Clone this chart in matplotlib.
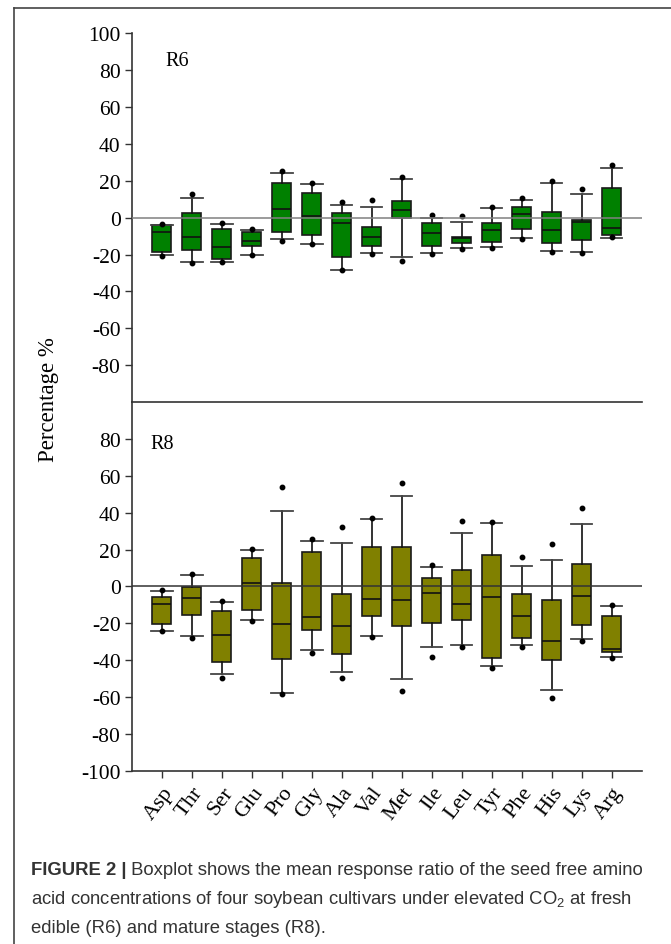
import matplotlib
matplotlib.use("Agg")
import matplotlib.pyplot as plt
from matplotlib.lines import Line2D

# Values (percent response ratio)
amino_acids = ['Asp', 'Thr', 'Ser', 'Glu', 'Pro', 'Gly', 'Ala', 'Val',
               'Met', 'Ile', 'Leu', 'Tyr', 'Phe', 'His', 'Lys', 'Arg']

# R6 - fresh edible stage
r6_q3 = [-4.2, 2.7, -6.0, -8.0, 18.6, 13.2, 2.3, -5.1, 9.2, -3.1, -10.5, -3.1, 6.0, 2.9, -1.1, 16.1]
r6_q1 = [-18.5, -17.8, -22.5, -15.2, -7.6, -9.3, -21.4, -15.2, -0.4, -15.4, -13.9, -13.1, -6.0, -13.6, -12.0, -9.5]
r6_med = [-8.0, -10.5, -16.0, -12.9, 4.9, 0.9, -3.1, -10.3, 4.3, -8.5, -11.1, -6.9, 2.0, -6.5, -2.2, -5.4]
r6_whishi = [-4.2, 10.5, -3.5, -6.9, 24.5, 18.3, 6.8, 5.6, 21.0, 0.0, -2.4, 5.2, 9.8, 18.6, 12.8, 27.0]
r6_whislo = [-20.3, -23.9, -23.9, -20.3, -11.8, -14.1, -28.3, -19.4, -21.4, -19.2, -16.5, -16.0, -11.1, -18.3, -18.7, -10.8]
r6_dot_hi = [-3.5, 12.7, -2.7, -6.2, 25.4, 18.8, 8.3, 9.8, 22.1, 1.6, 1.1, 5.9, 10.5, 19.7, 15.5, 28.3]
r6_dot_lo = [-20.6, -24.5, -23.9, -20.3, -12.7, -14.1, -28.5, -19.9, -23.7, -19.6, -17.2, -16.5, -11.5, -18.8, -19.0, -10.7]

# R8 - mature stage
r8_q3 = [-6.0, -0.3, -13.3, 15.4, 1.8, 18.8, -4.0, 21.1, 21.3, 4.5, 8.9, 17.0, -4.3, -7.4, 11.9, -16.1]
r8_q1 = [-20.6, -15.7, -41.2, -12.8, -39.2, -23.5, -36.9, -15.9, -21.7, -20.1, -18.4, -39.0, -28.0, -39.9, -20.9, -35.6]
r8_med = [-9.6, -6.5, -26.2, 1.6, -20.4, -16.4, -21.5, -7.0, -7.4, -3.8, -9.8, -5.8, -16.1, -29.8, -5.4, -33.8]
r8_whishi = [-2.7, 6.3, -8.7, 19.7, 41.0, 24.4, 23.3, 36.3, 48.8, 10.3, 29.1, 34.4, 11.2, 14.1, 34.1, -10.5]
r8_whislo = [-24.2, -27.1, -47.3, -18.4, -58.0, -34.5, -46.6, -27.1, -50.1, -33.1, -31.6, -43.0, -32.0, -56.2, -28.7, -38.4]
r8_dot_hi = [-2.2, 6.9, -7.8, 20.1, 53.9, 25.5, 32.0, 36.9, 56.0, 11.4, 35.2, 35.1, 15.7, 22.8, 42.3, -10.2]
r8_dot_lo = [-24.2, -28.2, -49.5, -18.8, -58.2, -35.9, -49.5, -27.5, -57.0, -38.1, -32.8, -44.1, -32.8, -60.7, -29.6, -39.1]

plt.rcParams['font.family'] = ['Liberation Serif', 'DejaVu Serif']
plt.rcParams['axes.unicode_minus'] = False
plt.rcParams['mathtext.fontset'] = 'custom'
plt.rcParams['mathtext.rm'] = 'Liberation Sans'

SPINE = '#333333'


def make_stats(q1, med, q3, lo, hi, dot_lo, dot_hi):
    stats = []
    for i in range(len(med)):
        stats.append({'q1': q1[i], 'med': med[i], 'q3': q3[i],
                      'whislo': lo[i], 'whishi': hi[i],
                      'fliers': [dot_lo[i], dot_hi[i]]})
    return stats


def draw_panel(ax, stats, color, zero_color, label, label_xy):
    ax.bxp(stats, positions=range(1, len(stats) + 1), widths=0.62,
           capwidths=0.72, patch_artist=True,
           boxprops=dict(facecolor=color, edgecolor='#1a1a1a', linewidth=1.2),
           medianprops=dict(color='#111111', linewidth=1.2),
           whiskerprops=dict(color='#111111', linewidth=1.2),
           capprops=dict(color='#444444', linewidth=1.3),
           flierprops=dict(marker='o', markerfacecolor='black',
                           markeredgecolor='black', markersize=3.2))
    ax.axhline(0, color=zero_color, linewidth=1.1, zorder=5)
    ax.set_xlim(0, len(stats) + 1)
    ax.set_ylim(-100, 100)
    ax.text(label_xy[0], label_xy[1], label, fontsize=14.5)
    ax.spines['right'].set_visible(False)
    for side in ['left', 'top', 'bottom']:
        ax.spines[side].set_color(SPINE)
        ax.spines[side].set_linewidth(1.2)
    ax.tick_params(axis='y', direction='out', length=5, width=1,
                   color=SPINE, labelsize=15.5, pad=3)


fig = plt.figure(figsize=(6.71, 9.45), dpi=100)

ax_top = fig.add_axes([0.1963, 0.5735, 0.76, 0.3902])
ax_bot = fig.add_axes([0.1963, 0.1834, 0.76, 0.3901])

draw_panel(ax_top, make_stats(r6_q1, r6_med, r6_q3, r6_whislo, r6_whishi, r6_dot_lo, r6_dot_hi),
           '#008000', '#808080', 'R6', (1.12, 83))
ax_top.spines['top'].set_visible(False)
ax_top.spines['bottom'].set_visible(False)
ax_top.set_yticks(range(-80, 101, 20))
ax_top.set_xticks([])

draw_panel(ax_bot, make_stats(r8_q1, r8_med, r8_q3, r8_whislo, r8_whishi, r8_dot_lo, r8_dot_hi),
           '#808000', '#333333', 'R8', (0.62, 75))
ax_bot.set_yticks(range(-100, 81, 20))
ax_bot.set_xticks(range(1, len(amino_acids) + 1))
ax_bot.set_xticklabels(amino_acids, rotation=53, ha='right',
                       rotation_mode='anchor', fontsize=16)
ax_bot.tick_params(axis='x', direction='out', length=5, width=1,
                   color=SPINE, pad=4)

fig.text(0.073, 1 - 400 / 945, 'Percentage %', rotation=90,
         fontsize=16.5, ha='center', va='center')

# Frame around the figure (only top and left edges are visible)
fig.add_artist(Line2D([14 / 671, 1.0], [1 - 9 / 945, 1 - 9 / 945],
                      color='#444444', linewidth=1.2))
fig.add_artist(Line2D([14 / 671, 14 / 671], [0.0, 1 - 9 / 945],
                      color='#444444', linewidth=1.2))

# Caption
cap = fig.add_axes([0, 0, 1, 1])
cap.axis('off')
cap_kw = dict(family=['Liberation Sans', 'DejaVu Sans'], fontsize=13.3, color='#333333')
bold = cap.text(31 / 671, 1 - 875 / 945, 'FIGURE 2 |', fontweight='bold',
                va='baseline', **cap_kw)
cap.annotate(' Boxplot shows the mean response ratio of the seed free amino',
             xy=(1, 0), xycoords=bold, va='bottom', **cap_kw)
cap.text(31 / 671, 1 - 904 / 945,
         'acid concentrations of four soybean cultivars under elevated CO$_\\mathregular{2}$ at fresh',
         va='baseline', **cap_kw)
cap.text(31 / 671, 1 - 933 / 945, 'edible (R6) and mature stages (R8).',
         va='baseline', **cap_kw)

plt.savefig('out.png', dpi=100)
